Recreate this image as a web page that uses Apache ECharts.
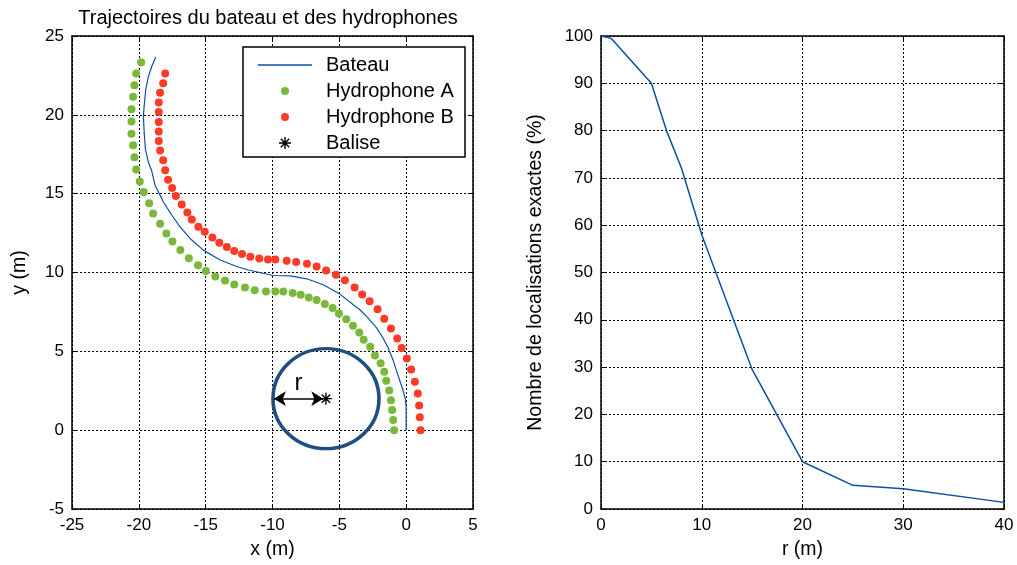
<!DOCTYPE html>
<html><head><meta charset="utf-8">
<script src="https://cdn.jsdelivr.net/npm/echarts@6/dist/echarts.min.js"></script>
<style>html,body{margin:0;padding:0;background:#fff}#c{width:1017px;height:565px}</style>
</head><body><div id="c"></div>
<script>
// ---- Data ----
const bateauX = [-18.73,-19.03,-19.28,-19.48,-19.60,-19.66,-19.60,-19.51,-19.28,-19.04,-18.78,-18.16,-17.53,-16.91,-16.17,-15.17,-13.92,-12.68,-11.81,-9.94,-8.69,-7.44,-6.20,-4.96,-3.98,-3.46,-2.86,-2.21,-1.74,-1.35,-0.99,-0.72,-0.43,-0.22,-0.06,0,0];
const bateauY = [23.67,23.08,22.45,21.61,20.56,19.93,18.88,17.83,16.99,16.45,15.52,14.47,13.63,12.90,12.16,11.42,10.79,10.38,10.16,9.81,9.79,9.60,9.22,8.63,7.97,7.64,7.12,6.49,5.86,5.23,4.47,3.76,3.02,2.50,1.95,1.45,0];

const hydroAX = [-19.83,-20.20,-20.33,-20.43,-20.55,-20.55,-20.55,-20.43,-20.33,-20.20,-19.93,-19.63,-19.23,-18.93,-18.41,-17.94,-17.49,-16.89,-16.26,-15.57,-14.99,-14.28,-13.55,-12.86,-12.06,-11.33,-10.49,-9.79,-9.19,-8.49,-7.89,-7.29,-6.70,-6.08,-5.50,-5.03,-4.48,-3.98,-3.51,-3.18,-2.69,-2.34,-1.91,-1.64,-1.49,-1.27,-1.14,-1.05,-0.97,-0.90];
const hydroAY = [23.33,22.62,21.87,21.15,20.35,19.58,18.80,18.07,17.31,16.53,15.77,15.10,14.39,13.74,13.09,12.48,11.97,11.42,10.90,10.46,10.10,9.75,9.50,9.24,9.05,8.88,8.80,8.80,8.80,8.70,8.59,8.42,8.25,8.00,7.75,7.40,7.04,6.62,6.19,5.73,5.29,4.74,4.24,3.70,3.13,2.52,1.89,1.28,0.65,0];

const hydroBX = [-18.03,-18.18,-18.41,-18.51,-18.51,-18.51,-18.51,-18.51,-18.41,-18.18,-18.03,-17.81,-17.51,-17.23,-16.79,-16.37,-16.04,-15.55,-15.07,-14.50,-13.98,-13.42,-12.86,-12.28,-11.66,-10.99,-10.34,-9.79,-8.94,-8.23,-7.42,-6.70,-5.99,-5.25,-4.58,-3.86,-3.29,-2.73,-2.14,-1.64,-1.14,-0.67,-0.34,0.05,0.37,0.65,0.87,0.97,1.02,1.08];
const hydroBY = [22.62,22.01,21.40,20.79,20.18,19.55,18.95,18.34,17.73,17.12,16.49,15.88,15.36,14.85,14.32,13.80,13.36,12.90,12.58,12.22,11.89,11.61,11.36,11.17,11.00,10.89,10.83,10.83,10.74,10.66,10.55,10.38,10.13,9.85,9.51,9.05,8.61,8.17,7.67,7.06,6.45,5.82,5.21,4.54,3.84,3.07,2.33,1.56,0.82,0];

const baliseX = [-6];
const baliseY = [2];
const arrowFromX = -9.9;   // circle edge
const arrowToX = -6.2;     // at the beacon

const rValues   = [0, 1, 5, 6.5, 8, 10, 15, 20, 25, 30, 40];
const pctValues = [100, 99.5, 90, 80, 72, 58, 29.5, 10, 5, 4.3, 1.4];

const leftTitle = 'Trajectoires du bateau et des hydrophones';
const names = ['Bateau', 'Hydrophone A', 'Hydrophone B', 'Balise'];

// ---- Styles ----
const FONT = '"Liberation Sans", Arial, sans-serif';
const BLUE = '#0b4fa6';
const GREEN = '#78b83a';
const RED = '#ff3b28';
const CIRCLE = '#1f4f7f';
const STAR = 'M-0.7,-6 L0.7,-6 L0.7,6 L-0.7,6 Z M-6,-0.7 L6,-0.7 L6,0.7 L-6,0.7 Z M-4.7,-3.7 L-3.7,-4.7 L4.7,3.7 L3.7,4.7 Z M-4.7,3.7 L3.7,-4.7 L4.7,-3.7 L-3.7,4.7 Z';
const STAR_ICON = 'path://M-7,-7 M7,7 ' + STAR;
const DOT_ICON = 'path://M-7,-7 M7,7 M-4,0 A4,4 0 1 1 4,0 A4,4 0 1 1 -4,0 Z';
const LINE_ICON = 'path://M0,-0.8 L54,-0.8 L54,0.8 L0,0.8 Z';

const zip = (a, b) => a.map((v, i) => [v, b[i]]);

function mkAxis(gridIndex, position, min, max, interval, main, name, nameGap) {
  const ax = {
    type: 'value', gridIndex, position, min, max, interval,
    axisLine: { show: true, onZero: false, lineStyle: { color: '#000', width: 1.5 } },
    axisTick: { show: true, inside: true, length: 5, lineStyle: { color: '#000', width: 1 } },
    axisLabel: { show: main, margin: 8, fontSize: 17, color: '#000', fontFamily: FONT, showMinLabel: true, showMaxLabel: true },
    splitLine: { show: main, lineStyle: { color: '#000', width: 1, type: [2, 2] } }
  };
  if (name) {
    ax.name = name; ax.nameLocation = 'middle'; ax.nameGap = nameGap;
    ax.nameTextStyle = { fontSize: 19.5, color: '#000', fontFamily: FONT };
  }
  return ax;
}

const chart = echarts.init(document.getElementById('c'), null, { renderer: 'canvas' });
chart.setOption({
  animation: false,
  backgroundColor: '#fff',
  title: {
    text: leftTitle, left: 268, top: 8, textAlign: 'center', padding: 0,
    textStyle: { fontSize: 20, fontWeight: 'normal', color: '#000', fontFamily: FONT }
  },
  grid: [
    { left: 72, top: 36, width: 401, height: 476 },
    { left: 601, top: 36, width: 403, height: 476 }
  ],
  xAxis: [
    mkAxis(0, 'bottom', -25, 5, 5, true, 'x (m)', 31),
    mkAxis(0, 'top', -25, 5, 5, false),
    mkAxis(1, 'bottom', 0, 40, 10, true, 'r (m)', 31),
    mkAxis(1, 'top', 0, 40, 10, false)
  ],
  yAxis: [
    mkAxis(0, 'left', -5, 25, 5, true, 'y (m)', 42),
    mkAxis(0, 'right', -5, 25, 5, false),
    mkAxis(1, 'left', 0, 100, 10, true, 'Nombre de localisations exactes (%)', 55),
    mkAxis(1, 'right', 0, 100, 10, false)
  ],
  graphic: [{
    type: 'rect', z: 15,
    shape: { x: 243, y: 47, width: 222, height: 110 },
    style: { fill: '#fff', stroke: '#000', lineWidth: 1.5 }
  }],
  legend: {
    orient: 'vertical', left: 258, top: 55, padding: 0, z: 20,
    itemWidth: 54, itemHeight: 14, itemGap: 6,
    textStyle: { fontSize: 20, color: '#000', fontFamily: FONT, padding: [0, 0, 0, 9] },
    data: [
      { name: names[0], icon: LINE_ICON },
      { name: names[1], icon: DOT_ICON },
      { name: names[2], icon: DOT_ICON },
      { name: names[3], icon: STAR_ICON }
    ]
  },
  series: [
    {
      name: names[0], type: 'line', xAxisIndex: 0, yAxisIndex: 0,
      data: zip(bateauX, bateauY), symbol: 'none', color: BLUE,
      itemStyle: { color: BLUE, opacity: 1 },
      lineStyle: { color: BLUE, width: 1.2 }, z: 3
    },
    {
      name: names[1], type: 'scatter', xAxisIndex: 0, yAxisIndex: 0,
      data: zip(hydroAX, hydroAY), symbol: 'circle', symbolSize: 8,
      itemStyle: { color: GREEN, opacity: 1 }, z: 3
    },
    {
      name: names[2], type: 'scatter', xAxisIndex: 0, yAxisIndex: 0,
      data: zip(hydroBX, hydroBY), symbol: 'circle', symbolSize: 8,
      itemStyle: { color: RED, opacity: 1 }, z: 3
    },
    {
      name: 'cercle', type: 'scatter', xAxisIndex: 0, yAxisIndex: 0,
      data: zip(baliseX, baliseY), symbol: 'circle', symbolSize: [106, 100],
      itemStyle: { color: 'rgba(0,0,0,0)', borderColor: CIRCLE, borderWidth: 3.5, opacity: 1 },
      silent: true, z: 4,
      markLine: {
        silent: true, symbol: ['arrow', 'arrow'], symbolSize: [11, 12],
        lineStyle: { color: '#000', width: 1.5, type: 'solid', opacity: 1 },
        label: { show: true, formatter: 'r', position: 'insideMiddleTop', distance: 3, fontSize: 24, color: '#000', fontFamily: FONT },
        data: [[{ coord: [arrowFromX, baliseY[0]] }, { coord: [arrowToX, baliseY[0]] }]]
      }
    },
    {
      name: names[3], type: 'scatter', xAxisIndex: 0, yAxisIndex: 0,
      data: zip(baliseX, baliseY), symbol: 'path://' + STAR, symbolSize: 12,
      itemStyle: { color: '#000', opacity: 1 }, z: 5
    },
    {
      name: 'taux', type: 'line', xAxisIndex: 2, yAxisIndex: 2,
      data: zip(rValues, pctValues), symbol: 'none', color: BLUE,
      lineStyle: { color: BLUE, width: 1.5 }, z: 3
    }
  ]
});
</script></body></html>
